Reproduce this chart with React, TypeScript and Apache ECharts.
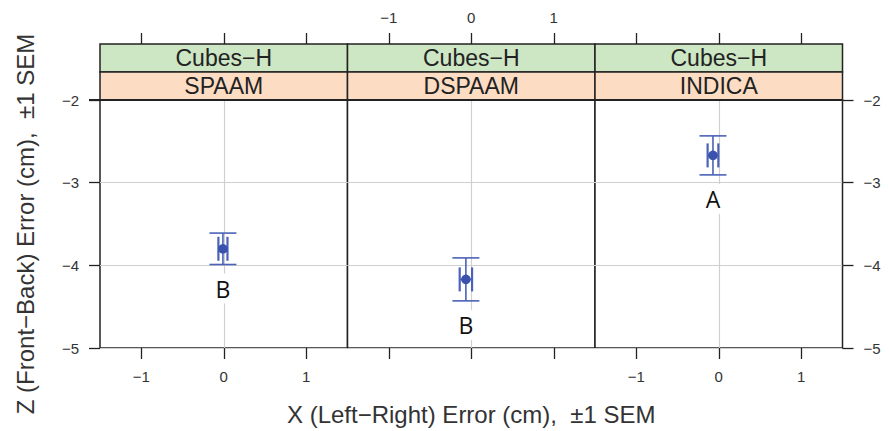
import React, { useEffect, useRef } from "react";
import * as echarts from "echarts";

// ---- data ----
const stripTop = ["Cubes\u2212H", "Cubes\u2212H", "Cubes\u2212H"];
const methods = ["SPAAM", "DSPAAM", "INDICA"];
const xMean = [-0.01, -0.065, -0.07];
const xSem = [0.055, 0.075, 0.065];
const zMean = [-3.8, -4.17, -2.67];
const zSem = [0.19, 0.26, 0.236];
const groupLetters = ["B", "B", "A"];
const xTicks = [-1, 0, 1];
const xRange = [-1.5, 1.5];
const yRange = [-5, -2];
const xTitle = "X (Left\u2212Right) Error (cm),  \u00b11 SEM";
const yTitle = "Z (Front\u2212Back) Error (cm),  \u00b11 SEM";

const FONT = "Liberation Sans, Arial, Helvetica, sans-serif";
const INK = "#222";
const BLUE_PT = "#3a52ad";
const BLUE_LN = "#4a62b8";
const GRID_GRAY = "#cfcfcf";

const PANEL_LEFT = 100;
const PANEL_W = 247.5;
const PANEL_TOP = 100;
const PANEL_H = 248;
const STRIP_H = 28;

const fmt = (v: number) => (v < 0 ? "\u2212" + Math.abs(v) : String(v));

export default function App() {
  const ref = useRef<HTMLDivElement>(null);
  useEffect(() => {
    if (!ref.current) return;
    const chart = echarts.init(ref.current, null, { renderer: "svg" });
    const n = methods.length;

    const grids = methods.map((_, i) => ({
      left: PANEL_LEFT + i * PANEL_W,
      top: PANEL_TOP,
      width: PANEL_W,
      height: PANEL_H,
      show: true,
      backgroundColor: "#fff",
      borderColor: INK,
      borderWidth: 1.5,
      containLabel: false,
    }));

    const tickStyle = { show: true, inside: false, length: 11, lineStyle: { color: INK, width: 1.3 }, customValues: xTicks };

    const xAxes: any[] = [];
    methods.forEach((_, i) => {
      xAxes.push({
        type: "value",
        gridIndex: i,
        position: "bottom",
        min: xRange[0],
        max: xRange[1],
        axisLine: { show: false, onZero: false },
        axisTick: tickStyle,
        axisLabel: {
          show: i !== 1,
          customValues: xTicks,
          formatter: fmt,
          color: "#333",
          fontFamily: FONT,
          fontSize: 15,
          margin: 21,
        },
        splitLine: { show: false },
        name: i === 1 ? xTitle : "",
        nameLocation: "middle",
        nameGap: 54,
        nameTextStyle: { fontFamily: FONT, fontSize: 24, color: "#333" },
      });
      xAxes.push({
        type: "value",
        gridIndex: i,
        position: "top",
        offset: STRIP_H * 2,
        min: xRange[0],
        max: xRange[1],
        axisLine: { show: false, onZero: false },
        axisTick: tickStyle,
        axisLabel: {
          show: i === 1,
          customValues: xTicks,
          formatter: fmt,
          color: "#333",
          fontFamily: FONT,
          fontSize: 15,
          margin: 19,
        },
        splitLine: { show: false },
      });
    });

    const yAxes = methods.map((_, i) => ({
      type: "value",
      gridIndex: i,
      position: i === n - 1 ? "right" : "left",
      min: yRange[0],
      max: yRange[1],
      interval: 1,
      axisLine: { show: false, onZero: false },
      axisTick: { show: i !== 1, inside: false, length: 11, lineStyle: { color: INK, width: 1.3 } },
      axisLabel: {
        show: i !== 1,
        formatter: fmt,
        color: "#333",
        fontFamily: FONT,
        fontSize: 15,
        margin: 21,
      },
      splitLine: { show: true, lineStyle: { color: GRID_GRAY, width: 1.2 } },
      name: i === 0 ? yTitle : "",
      nameLocation: "middle",
      nameGap: 63,
      nameTextStyle: { fontFamily: FONT, fontSize: 24, color: "#333" },
    }));

    const series: any[] = [];
    methods.forEach((m, i) => {
      series.push({
        type: "scatter",
        xAxisIndex: i * 2,
        yAxisIndex: i,
        data: [],
        z: 1,
        silent: true,
        markLine: {
          z: 1,
          silent: true,
          symbol: "none",
          label: { show: false },
          lineStyle: { color: GRID_GRAY, width: 1.2, type: "solid" },
          data: [{ xAxis: 0 }],
        },
      });
      series.push({
        type: "custom",
        name: m,
        xAxisIndex: i * 2,
        yAxisIndex: i,
        z: 3,
        data: [[xMean[i], zMean[i], xSem[i], zSem[i]]],
        renderItem: (params: any, api: any) => {
          const x = api.value(0);
          const z = api.value(1);
          const xs = api.value(2);
          const zs = api.value(3);
          const letter = groupLetters[i];
          const c = api.coord([x, z]);
          const t = api.coord([x, z + zs]);
          const b = api.coord([x, z - zs]);
          const l = api.coord([x - xs, z]);
          const r = api.coord([x + xs, z]);
          const capW = 13.5;
          const capH = 12;
          const ls = { stroke: BLUE_LN, lineWidth: 1.6 };
          const ly = b[1] + 24;
          return {
            type: "group",
            children: [
              { type: "rect", shape: { x: c[0] - 11, y: ly - 15, width: 22, height: 30 }, style: { fill: "#fff" } },
              {
                type: "text",
                x: c[0],
                y: ly,
                style: {
                  text: letter,
                  fill: "#111",
                  font: "23px 'Open Sans', 'Liberation Sans', sans-serif",
                  align: "center",
                  verticalAlign: "middle",
                },
              },
              { type: "line", shape: { x1: c[0], y1: t[1], x2: c[0], y2: b[1] }, style: ls },
              { type: "line", shape: { x1: c[0] - capW, y1: t[1], x2: c[0] + capW, y2: t[1] }, style: ls },
              { type: "line", shape: { x1: c[0] - capW, y1: b[1], x2: c[0] + capW, y2: b[1] }, style: ls },
              { type: "line", shape: { x1: l[0], y1: c[1], x2: r[0], y2: c[1] }, style: ls },
              { type: "line", shape: { x1: l[0], y1: c[1] - capH, x2: l[0], y2: c[1] + capH }, style: { stroke: BLUE_LN, lineWidth: 2.2 } },
              { type: "line", shape: { x1: r[0], y1: c[1] - capH, x2: r[0], y2: c[1] + capH }, style: { stroke: BLUE_LN, lineWidth: 2.2 } },
              { type: "circle", shape: { cx: c[0], cy: c[1], r: 4.8 }, style: { fill: BLUE_PT } },
            ],
          };
        },
      });
    });

    const graphics: any[] = [];
    methods.forEach((m, i) => {
      const x0 = PANEL_LEFT + i * PANEL_W;
      graphics.push({
        type: "rect",
        shape: { x: x0, y: PANEL_TOP - 2 * STRIP_H, width: PANEL_W, height: STRIP_H },
        style: { fill: "#cde6c3", stroke: INK, lineWidth: 1.5 },
      });
      graphics.push({
        type: "rect",
        shape: { x: x0, y: PANEL_TOP - STRIP_H, width: PANEL_W, height: STRIP_H },
        style: { fill: "#fcdcc2", stroke: INK, lineWidth: 1.5 },
      });
      graphics.push({
        type: "text",
        x: x0 + PANEL_W / 2,
        y: PANEL_TOP - 1.5 * STRIP_H,
        style: { text: stripTop[i], fill: INK, font: `23px ${FONT}`, align: "center", verticalAlign: "middle" },
      });
      graphics.push({
        type: "text",
        x: x0 + PANEL_W / 2,
        y: PANEL_TOP - 0.5 * STRIP_H,
        style: { text: m, fill: INK, font: `23px ${FONT}`, align: "center", verticalAlign: "middle" },
      });
    });
    graphics.push({
      type: "line",
      shape: { x1: PANEL_LEFT - 11, y1: PANEL_TOP, x2: PANEL_LEFT + 3 * PANEL_W, y2: PANEL_TOP },
      style: { stroke: INK, lineWidth: 2 },
      z: 10,
    });

    chart.setOption({
      animation: false,
      backgroundColor: "#fff",
      grid: grids,
      xAxis: xAxes,
      yAxis: yAxes,
      series,
      graphic: graphics,
    });
    return () => chart.dispose();
  }, []);
  return (
    <div
      ref={ref}
      style={{ position: "fixed", left: 0, top: 0, width: 889, height: 431 }}
    />
  );
}
